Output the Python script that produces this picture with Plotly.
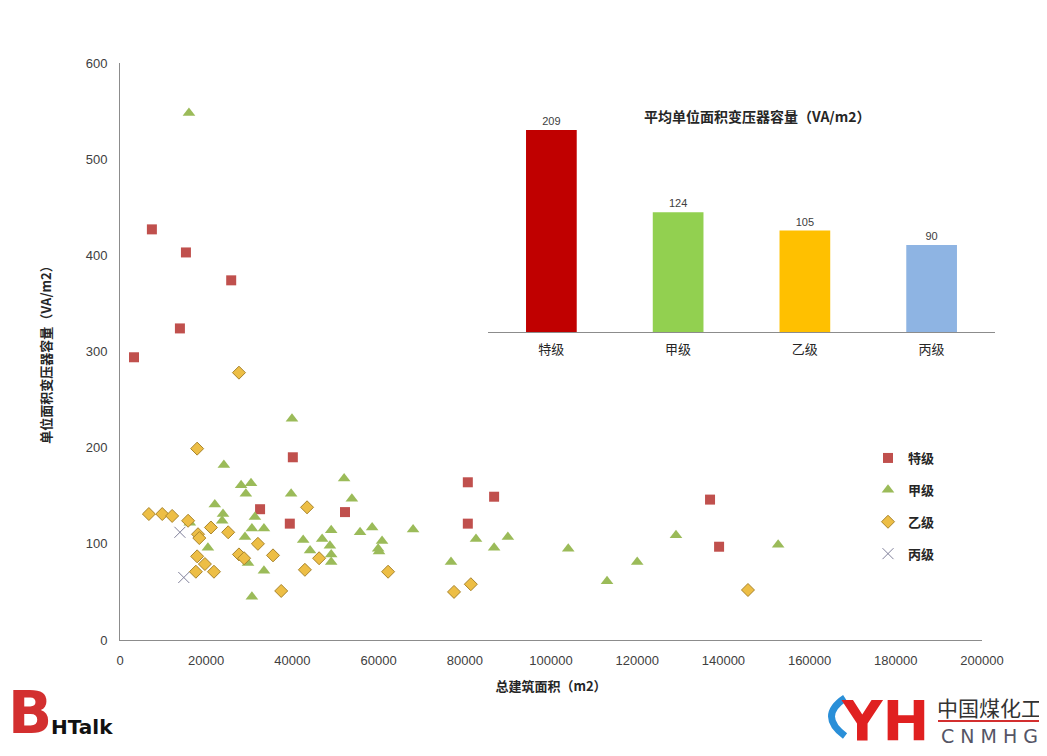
import plotly.graph_objects as go

FONT = "Liberation Sans, Noto Sans CJK SC, sans-serif"
CJK = "Noto Sans CJK SC, sans-serif"

# scatter data: building area (m2) vs transformer capacity per area (VA/m2)
tj_x = [3250, 7400, 15300, 13900, 25800, 40100, 39400, 32500, 52200, 80700, 80700, 86800, 136900, 139000]
tj_y = [294, 427, 403, 324, 374, 190, 121, 136, 133, 164, 121, 149, 146, 97]

jj_x = [16000, 39900, 24100, 28100, 30400, 29200, 39700, 52000, 53800, 22000, 23900, 23700,
        31300, 30600, 33400, 29000, 20400, 49000, 55700, 58500, 68000, 42500, 46900, 48700,
        49000, 44100, 49000, 60800, 59900, 60100, 29700, 33400, 30600, 16200, 76800, 82600,
        86800, 90000, 104000, 113000, 120000, 129000, 152700]
jj_y = [548, 230, 182, 161, 163, 152, 152, 168, 147, 141, 131, 124,
        128, 116, 116, 107, 96, 114, 112, 117, 115, 104, 105, 98,
        89, 93, 81, 103, 95, 92, 80, 72, 45, 122, 81, 105,
        96, 107, 95, 61, 81, 109, 99]

yj_x = [17900, 27600, 6700, 9800, 12100, 15800, 21100, 18100, 18400, 25100, 32000, 17900, 27600,
        28800, 35500, 19700, 21800, 17600, 37400, 43400, 42900, 46200, 62200, 77500, 81400, 145700]
yj_y = [199, 278, 131, 131, 129, 124, 117, 110, 106, 112, 100, 87, 89,
        85, 88, 79, 71, 71, 51, 138, 73, 85, 71, 50, 58, 52]

bj_x = [13900, 14800]
bj_y = [112, 65]

# inset bar: average per-area capacity
grades = ["特级", "甲级", "乙级", "丙级"]
avg_cap = [209, 124, 105, 90]
bar_colors = ["#C00000", "#92D050", "#FFC000", "#8EB4E3"]

# page body has an 8px margin, so the figure is drawn 8px in from the corner
OFF = 8
W, H = 1047 - OFF, 756 - OFF
L, R, T, B = 120 - OFF, 40, 63 - OFF, 116
PW, PH = W - L - R, H - T - B


def px(x, y):
    """screen pixel position -> paper coords"""
    return (x - OFF - L) / PW, (H - B - (y - OFF)) / PH


def note(text, x, y, size, color, family=CJK, **kw):
    xp, yp = px(x, y)
    return dict(text=text, x=xp, y=yp, xref="paper", yref="paper", showarrow=False,
                xanchor="center", yanchor="middle",
                font=dict(family=family, size=size, color=color), **kw)


fig = go.Figure()

fig.add_trace(go.Scatter(
    x=tj_x, y=tj_y, mode="markers", name="特级", legendgroup="a",
    marker=dict(symbol="square", size=10, color="#C0504D", line=dict(width=0))
))
fig.add_trace(go.Scatter(
    x=jj_x, y=jj_y, mode="markers", name="甲级", legendgroup="b",
    marker=dict(symbol="triangle-up", size=11, color="#9BBB59", line=dict(width=0))
))
fig.add_trace(go.Scatter(
    x=yj_x, y=yj_y, mode="markers", name="乙级", legendgroup="c",
    marker=dict(symbol="diamond", size=10, color="#EDBE45", line=dict(width=1, color="#A8842C"))
))
fig.add_trace(go.Scatter(
    x=bj_x, y=bj_y, mode="markers", name="丙级", legendgroup="d",
    marker=dict(symbol="x-thin-open", size=11, color="#7F7F9A", line=dict(width=1, color="#7F7F9A"))
))

fig.add_trace(go.Bar(
    x=grades, y=avg_cap, xaxis="x2", yaxis="y2", showlegend=False,
    marker=dict(color=bar_colors, line=dict(width=0)),
    text=avg_cap, textposition="outside", cliponaxis=False,
    textfont=dict(size=11, color="#404040", family=FONT),
    width=0.4
))

x0d, _ = px(982, 0)
ix0, _ = px(488, 0)
ix1, _ = px(995, 0)
_, iy0 = px(0, 332)
_, iy1 = px(0, 100)

fig.update_layout(
    width=W, height=H,
    margin=dict(l=L, r=R, t=T, b=B, autoexpand=False),
    paper_bgcolor="white", plot_bgcolor="white",
    font=dict(family=FONT, size=13, color="#404040"),
    xaxis=dict(
        domain=[0, x0d], range=[0, 200000], dtick=20000, tickformat="d",
        showgrid=False, zeroline=False, automargin=False,
        showline=True, linecolor="#8C8C8C", linewidth=1, ticks="", ticklabelstandoff=8,
        tickfont=dict(size=13, color="#404040"),
        title=dict(text="总建筑面积（m2）", font=dict(family=CJK, size=13, color="#262626", weight="bold"), standoff=15)
    ),
    yaxis=dict(
        range=[0, 600], dtick=100, showgrid=False, zeroline=False, automargin=False,
        showline=True, linecolor="#8C8C8C", linewidth=1, ticks="", ticklabelstandoff=9,
        tickfont=dict(size=13, color="#404040"),
        title=dict(text="单位面积变压器容量（VA/m2）", font=dict(family=CJK, size=13, color="#262626", weight="bold"), standoff=31)
    ),
    xaxis2=dict(
        domain=[ix0, ix1], anchor="y2", showgrid=False, zeroline=False, automargin=False,
        showline=True, linecolor="#8C8C8C", linewidth=1, ticks="", ticklabelstandoff=5,
        tickfont=dict(family=CJK, size=13, color="#262626")
    ),
    yaxis2=dict(
        domain=[iy0, iy1], anchor="x2", range=[0, 240], visible=False
    ),
    bargap=0.6,
    legend=dict(
        x=px(868, 0)[0], y=px(0, 443)[1], xanchor="left", yanchor="top",
        font=dict(family=CJK, size=13, color="#262626", weight="bold"),
        tracegroupgap=12, traceorder="grouped", bgcolor="rgba(0,0,0,0)",
        itemwidth=30
    ),
    annotations=[
        note("<b>平均单位面积变压器容量（VA/m2）</b>", 757, 116, 14, "#262626"),
        # logos
        note("<b>B</b>", 30, 713, 58, "#D32F2F", family="DejaVu Sans"),
        note("<b>HTalk</b>", 82, 727, 20, "#111111", family="DejaVu Sans"),
        note("<b>YH</b>", 885, 720, 56, "#E02020", family="DejaVu Sans"),
        note("中国煤化工", 989, 707, 21, "#333333"),
        note("C N M H G", 989, 736, 19, "#555566", family="DejaVu Sans"),
    ],
)

lx0, ly = px(938, 721)
lx1, _ = px(1040, 721)
fig.add_shape(type="line", xref="paper", yref="paper", x0=lx0, x1=lx1, y0=ly, y1=ly,
              line=dict(color="#D32F2F", width=2))
a, b, c = px(845, 698), px(818, 716), px(845, 736)
fig.add_shape(type="path", xref="paper", yref="paper",
              path=f"M {a[0]:.4f} {a[1]:.4f} Q {b[0]:.4f} {b[1]:.4f} {c[0]:.4f} {c[1]:.4f}",
              line=dict(color="#2A8FD8", width=7))

fig.write_html("out.html")
